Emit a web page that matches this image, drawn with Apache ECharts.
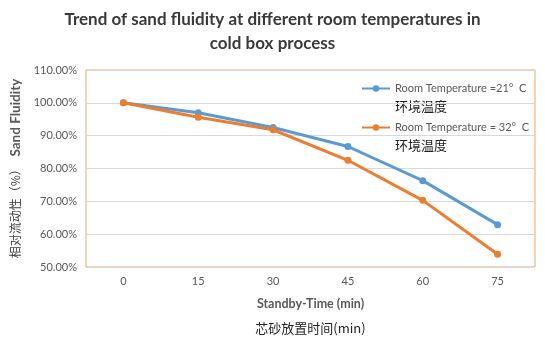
<!DOCTYPE html>
<html>
<head>
<meta charset="utf-8">
<script src="https://cdn.jsdelivr.net/npm/echarts@6/dist/echarts.min.js"></script>
<style>html,body{margin:0;padding:0;background:#fff}#c{width:545px;height:346px}</style>
</head>
<body>
<div id="c"></div>
<script>
var categories = ['0', '15', '30', '45', '60', '75'];
var series21 = [100.0, 97.0, 92.5, 86.7, 76.3, 62.9];
var series32 = [100.0, 95.6, 91.8, 82.5, 70.3, 53.9];
var seriesNames = ['Room Temperature =21°  C', 'Room Temperature = 32°  C'];
var seriesSub = '环境温度';
var yMin = 50, yMax = 110, yStep = 10;

var chart = echarts.init(document.getElementById('c'));
var font = 'Lato, "Noto Sans", sans-serif';
chart.setOption({
  animation: false,
  title: {
    text: 'Trend of sand fluidity at different room temperatures in\ncold box process',
    left: 'center', top: 3,
    textStyle: {fontFamily: font, fontWeight: 'bold', fontSize: 17, color: '#3a3a3a', lineHeight: 24}
  },
  grid: {left: 86, right: 10, top: 70, bottom: 79, show: true, borderColor: '#E8A66C', borderWidth: 1},
  legend: {
    orient: 'vertical', left: 356, top: 78, itemGap: 28, itemWidth: 28, itemHeight: 8,
    textStyle: {fontFamily: font, fontSize: 11, color: '#595959'},
    data: seriesNames
  },
  graphic: [
    {type: 'text', left: 395, top: 100, style: {text: seriesSub, font: '13px "Noto Sans CJK SC"', fill: '#222'}},
    {type: 'text', left: 395, top: 139, style: {text: seriesSub, font: '13px "Noto Sans CJK SC"', fill: '#222'}}
  ],
  xAxis: {
    type: 'category', data: categories, boundaryGap: true,
    axisLine: {show: false}, axisTick: {show: false},
    axisLabel: {fontFamily: font, fontSize: 11, color: '#595959', margin: 9},
    name: '{en|Standby-Time (min)}\n{cn|芯砂放置时间(min)}',
    nameLocation: 'middle', nameGap: 25,
    nameTextStyle: {
      rich: {
        en: {fontFamily: font, fontWeight: 'bold', fontSize: 12.5, color: '#595959', lineHeight: 24},
        cn: {fontFamily: '"Noto Sans CJK SC"', fontSize: 13, color: '#222', lineHeight: 24}
      }
    }
  },
  yAxis: {
    type: 'value', min: yMin, max: yMax, interval: yStep,
    axisLine: {show: false}, axisTick: {show: false},
    splitLine: {lineStyle: {color: '#D9D9D9'}},
    axisLabel: {fontFamily: font, fontSize: 11, color: '#595959', margin: 9,
      formatter: function (v) { return v.toFixed(2) + '%'; }},
    name: '{cn|相对流动性（%）}  {en|Sand Fluidity}',
    nameLocation: 'middle', nameRotate: 90, nameGap: 61,
    nameTextStyle: {
      rich: {
        en: {fontFamily: font, fontWeight: 'bold', fontSize: 13.5, color: '#595959'},
        cn: {fontFamily: '"Noto Sans CJK SC"', fontSize: 12, color: '#404040'}
      }
    }
  },
  series: [
    {name: seriesNames[0], type: 'line', data: series21, symbol: 'circle', symbolSize: 7,
      itemStyle: {color: '#5B9BD5'}, lineStyle: {width: 3, color: '#5B9BD5'}},
    {name: seriesNames[1], type: 'line', data: series32, symbol: 'circle', symbolSize: 7,
      itemStyle: {color: '#ED7D31'}, lineStyle: {width: 3, color: '#ED7D31'}}
  ]
});
</script>
</body>
</html>
